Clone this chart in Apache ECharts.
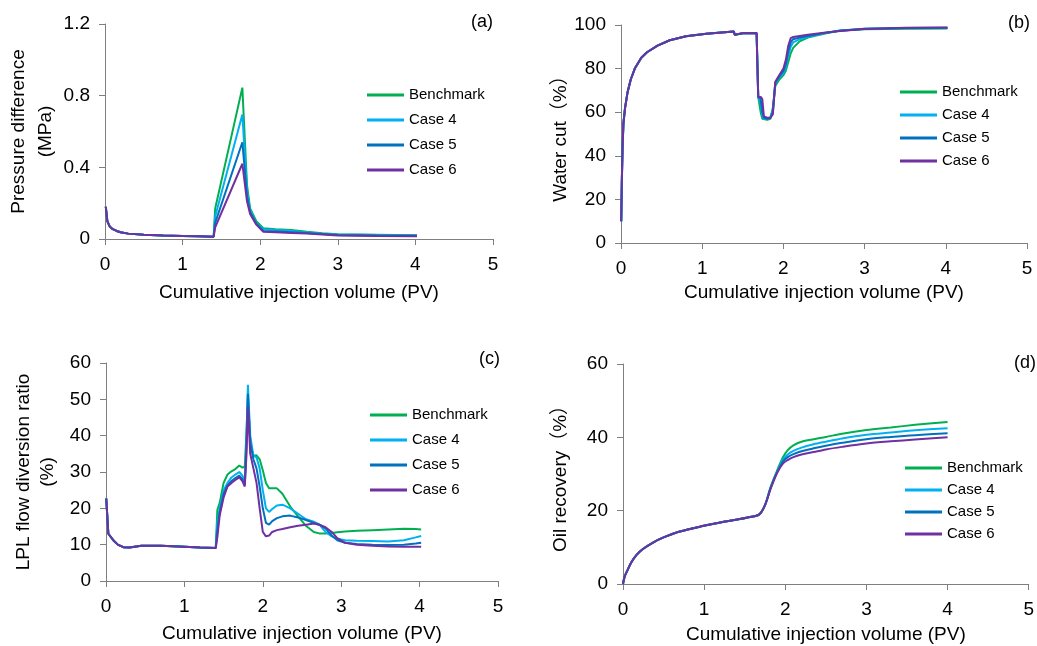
<!DOCTYPE html>
<html><head><meta charset="utf-8">
<script src="https://cdn.jsdelivr.net/npm/echarts@6/dist/echarts.min.js"></script>
<style>html,body{margin:0;padding:0;background:#fff}#c{width:1037px;height:646px}</style>
</head><body><div id="c"></div>
<script>
// ---------------- data ----------------
const seriesNames = ['Benchmark', 'Case 4', 'Case 5', 'Case 6'];
const panelLetters = ['(a)', '(b)', '(c)', '(d)'];
const xTitle = 'Cumulative injection volume (PV)';
const yTitles = ['Pressure difference\n(MPa)', 'Water cut（%）', 'LPL flow diversion ratio\n(%)', 'Oil recovery（%）'];

// (a) pressure difference (MPa)
const pdX = [0.01, 0.03, 0.06, 0.1, 0.15, 0.2, 0.3, 0.5, 0.75, 1.0, 1.2, 1.4, 1.41, 1.42, 1.77, 1.83, 1.87, 1.95, 2.04, 2.2, 2.4, 2.6, 2.8, 3.0, 3.5, 4.02];
const pdBench = [0.18, 0.10, 0.07, 0.055, 0.045, 0.038, 0.030, 0.024, 0.020, 0.017, 0.015, 0.013, 0.012, 0.17, 0.845, 0.30, 0.17, 0.10, 0.06, 0.055, 0.05, 0.04, 0.032, 0.027, 0.024, 0.021];
const pdCase4 = [0.18, 0.10, 0.07, 0.055, 0.045, 0.038, 0.030, 0.024, 0.020, 0.017, 0.015, 0.013, 0.012, 0.125, 0.695, 0.27, 0.16, 0.09, 0.055, 0.05, 0.045, 0.037, 0.030, 0.025, 0.022, 0.020];
const pdCase5 = [0.18, 0.10, 0.07, 0.055, 0.045, 0.038, 0.030, 0.024, 0.020, 0.017, 0.015, 0.013, 0.012, 0.09, 0.54, 0.24, 0.15, 0.085, 0.045, 0.042, 0.038, 0.033, 0.028, 0.023, 0.020, 0.018];
const pdCase6 = [0.18, 0.10, 0.07, 0.055, 0.045, 0.038, 0.030, 0.024, 0.020, 0.017, 0.015, 0.013, 0.008, 0.065, 0.42, 0.21, 0.14, 0.08, 0.04, 0.038, 0.034, 0.030, 0.025, 0.020, 0.017, 0.015];

// (b) water cut (%)
const wcX = [0.003, 0.01, 0.02, 0.03, 0.05, 0.08, 0.12, 0.17, 0.25, 0.32, 0.45, 0.6, 0.8, 1.05, 1.2, 1.39, 1.4, 1.42, 1.5, 1.67,
             1.69, 1.72, 1.74, 1.76, 1.8, 1.84, 1.87, 1.9, 1.95, 2.0, 2.03, 2.06, 2.09, 2.12, 2.2, 2.3, 2.5, 2.7, 3.0, 3.5, 4.02];
const wcCommon = [10, 28, 45, 55, 62, 69, 75, 80, 85, 87.5, 90.5, 93, 94.8, 96, 96.5, 97, 95.5, 96.3, 96.2, 96.3];
const wcBenchTail = [67, 60, 57, 56.5, 56.5, 57, 62, 72, 75, 77, 79, 83, 87, 89.5, 92.5, 94.2, 96, 97.5, 98, 98.3, 98.4];
const wcCase4Tail = [67, 64, 58, 57, 57, 57.5, 61, 73, 76, 78, 80.5, 86, 90, 92, 93.5, 94.5, 96.2, 97.5, 98.3, 98.5, 98.6];
const wcCase5Tail = [67, 66, 60, 57.5, 57, 57.5, 60, 73.5, 76.5, 79, 82, 88, 92, 93.5, 94.3, 95, 96.3, 97.4, 98.3, 98.6, 98.7];
const wcCase6Tail = [67, 67, 66, 58, 57.5, 57.5, 59, 74, 77, 80, 84, 90.5, 94, 94.5, 95, 95.5, 96.5, 97.3, 98.2, 98.7, 98.8];

// (c) LPL flow diversion ratio (%)
const lrX = [0.003, 0.03, 0.09, 0.15, 0.22, 0.3, 0.45, 0.7, 1.0, 1.2, 1.4,
             1.42, 1.45, 1.5, 1.55, 1.6, 1.65, 1.7, 1.74, 1.77, 1.79, 1.81, 1.84, 1.88, 1.92, 1.96, 2.0, 2.04, 2.08, 2.12, 2.18,
             2.25, 2.35, 2.45, 2.55, 2.65, 2.72, 2.8, 2.88, 2.95, 3.05, 3.2, 3.4, 3.6, 3.8, 3.95, 4.02];
const lrCommon = [22.7, 13, 11.3, 10, 9.3, 9.2, 9.7, 9.7, 9.4, 9.2, 9.1];
const lrBenchTail = [19.5, 21.5, 27, 29.3, 30.2, 30.8, 31.8, 31.2, 31.5, 40, 50.5, 38, 34.5, 34.6, 33.5, 30.5, 27, 25.5, 25.5, 25.5,
                     24, 20.5, 17.8, 15.2, 13.5, 13.1, 13.1, 13.2, 13.4, 13.6, 13.8, 14, 14.2, 14.4, 14.3, 14.2];
const lrCase4Tail = [16, 20, 25, 27, 28.5, 29.3, 30, 29, 27.5, 38, 54, 40, 34.5, 34, 31, 25, 20, 19, 19.8, 20.8,
                     21, 20, 18.5, 17, 16.3, 15.6, 13.5, 12.3, 11.6, 11.2, 11.1, 11, 10.9, 11.2, 12, 12.4];
const lrCase5Tail = [14, 19, 24, 26.3, 27.5, 28.3, 29, 28, 26.5, 36, 51.5, 38, 33.5, 31, 26, 20, 16, 15.5, 16.5, 17.3,
                     17.8, 18, 17.5, 16.8, 16, 15.5, 14.5, 12.5, 11.2, 10.5, 10.2, 10, 9.9, 10, 10.3, 10.5];
const lrCase6Tail = [12, 18, 23, 26, 27, 27.8, 28.5, 27.5, 26, 34, 48, 35, 31, 27, 20, 13.5, 12.3, 12.5, 13.5, 14,
                     14.3, 14.8, 15.2, 15.5, 15.8, 15.5, 14.8, 13.5, 11.8, 10.5, 10, 9.7, 9.5, 9.4, 9.4, 9.4];

// (d) oil recovery (%)
const orX = [0, 0.02, 0.05, 0.1, 0.17, 0.25, 0.37, 0.5, 0.7, 0.98, 1.2, 1.39, 1.55, 1.68,
             1.75, 1.82, 1.9, 1.97, 2.03, 2.1, 2.2, 2.35, 2.5, 2.7, 3.0, 3.3, 3.6, 4.0];
const orCommon = [0, 2, 3.5, 5.8, 8, 9.6, 11.3, 12.7, 14.3, 15.8, 16.8, 17.5, 18.2, 19];
const orBenchTail = [21.5, 26.5, 31, 34.5, 36.5, 37.8, 38.8, 39.5, 40.1, 41, 42, 42.7, 43.4, 44.2];
const orCase4Tail = [21.5, 26.3, 30.7, 33.8, 35.3, 36.3, 37.2, 38.1, 38.8, 39.7, 40.7, 41.3, 41.9, 42.5];
const orCase5Tail = [21.5, 26.2, 30.5, 33.3, 34.6, 35.4, 36.2, 37.0, 37.7, 38.5, 39.5, 40.1, 40.6, 41.1];
const orCase6Tail = [21.5, 26.0, 30.3, 32.8, 33.8, 34.6, 35.3, 36.0, 36.7, 37.4, 38.3, 38.9, 39.4, 40.0];

// ---------------- style / layout ----------------
const colors = ['#00B050', '#00B0F0', '#0070C0', '#7030A0'];
const FONT = '"Liberation Sans", Arial, "Noto Sans CJK SC", sans-serif';
const axisGray = '#7f7f7f';

const panels = [
  { x: pdX, ys: [pdBench, pdCase4, pdCase5, pdCase6], ymax: 1.2, yint: 0.4 },
  { x: wcX, ys: [wcCommon.concat(wcBenchTail), wcCommon.concat(wcCase4Tail), wcCommon.concat(wcCase5Tail), wcCommon.concat(wcCase6Tail)], ymax: 100, yint: 20 },
  { x: lrX, ys: [lrCommon.concat(lrBenchTail), lrCommon.concat(lrCase4Tail), lrCommon.concat(lrCase5Tail), lrCommon.concat(lrCase6Tail)], ymax: 60, yint: 10 },
  { x: orX, ys: [orCommon.concat(orBenchTail), orCommon.concat(orCase4Tail), orCommon.concat(orCase5Tail), orCommon.concat(orCase6Tail)], ymax: 60, yint: 20 }
];

const grids = [
  { left: 105, top: 24, width: 388, height: 215 },
  { left: 621, top: 25, width: 406, height: 218 },
  { left: 106, top: 363, width: 392, height: 218 },
  { left: 623, top: 364, width: 409, height: 220 }
];
const yNameGaps = [41, 43, 46, 52];
const yNameLineHeights = [27, 20, 24, 20];
const xNameGaps = [44, 40, 43, 41];
const legendPos = [
  { left: 367, top: 87.5, gap: 10 },
  { left: 900, top: 84.5, gap: 8 },
  { left: 370, top: 407.5, gap: 10 },
  { left: 905, top: 460.5, gap: 7 }
];
const letterPos = [[493, 22], [1030, 23], [500, 359], [1036, 363]];

const axisCommon = {
  axisLine: { show: true, lineStyle: { color: axisGray, width: 1 } },
  axisTick: { show: true, length: 6, lineStyle: { color: axisGray, width: 1 } },
  splitLine: { show: false },
  axisLabel: { fontSize: 19, color: '#000', fontFamily: FONT },
  nameTextStyle: { fontSize: 19, color: '#000', fontFamily: FONT }
};

const option = {
  animation: false,
  backgroundColor: '#fff',
  grid: grids,
  xAxis: grids.map((g, i) => Object.assign({}, axisCommon, {
    type: 'value', gridIndex: i, min: 0, max: 5, interval: 1,
    axisLabel: Object.assign({}, axisCommon.axisLabel, { margin: 16 }),
    name: xTitle, nameLocation: 'middle', nameGap: xNameGaps[i]
  })),
  yAxis: grids.map((g, i) => Object.assign({}, axisCommon, {
    type: 'value', gridIndex: i, min: 0, max: panels[i].ymax, interval: panels[i].yint,
    axisLabel: Object.assign({}, axisCommon.axisLabel, { margin: 15 }),
    name: yTitles[i], nameLocation: 'middle', nameRotate: 90, nameGap: yNameGaps[i],
    nameTextStyle: Object.assign({}, axisCommon.nameTextStyle, { lineHeight: yNameLineHeights[i] })
  })),
  legend: legendPos.map(p => ({
    orient: 'vertical', left: p.left, top: p.top, padding: 0,
    icon: 'rect', itemWidth: 37, itemHeight: 3, itemGap: p.gap,
    data: seriesNames, selectedMode: false,
    textStyle: { fontSize: 15, color: '#000', fontFamily: FONT }
  })),
  graphic: letterPos.map((p, i) => ({
    type: 'text', x: p[0], y: p[1],
    style: { text: panelLetters[i], fill: '#000', font: '18px ' + FONT, textAlign: 'right', textVerticalAlign: 'middle' }
  })),
  series: []
};

panels.forEach((p, pi) => {
  p.ys.forEach((vals, si) => {
    option.series.push({
      type: 'line', name: seriesNames[si], xAxisIndex: pi, yAxisIndex: pi,
      symbol: 'none', smooth: pi === 3 ? 0.3 : false,
      color: colors[si],
      itemStyle: { color: colors[si] },
      lineStyle: { width: 2, color: colors[si] },
      data: p.x.map((x, k) => [x, vals[k]])
    });
  });
});

const chart = echarts.init(document.getElementById('c'), null, { renderer: 'canvas' });
chart.setOption(option);
</script>
</body></html>
